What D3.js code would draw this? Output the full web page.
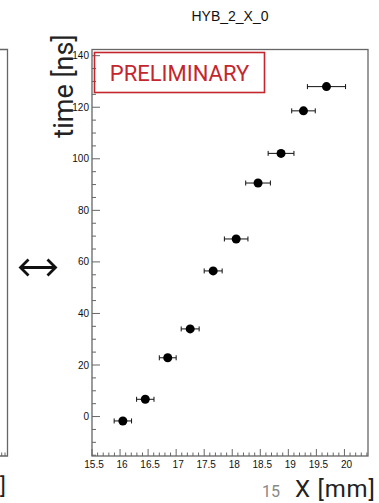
<!DOCTYPE html>
<html>
<head>
<meta charset="utf-8">
<script src="https://cdn.jsdelivr.net/npm/d3@7"></script>
<style>
  html, body { margin: 0; padding: 0; background: #fff; }
  svg { display: block; }
</style>
</head>
<body>
<svg id="chart" width="379" height="503"></svg>
<script>
// Strip position scan: mean time vs. strip X position
const title = "HYB_2_X_0";
const xPos = [16.05, 16.45, 16.85, 17.25, 17.66, 18.07, 18.46, 18.87, 19.27, 19.68];
const xErr = [0.155, 0.155, 0.15, 0.16, 0.16, 0.21, 0.22, 0.23, 0.21, 0.34];
const tMean = [-1.7, 6.7, 22.8, 34.0, 56.5, 68.9, 90.6, 102.1, 118.6, 128.0];
const xTickLabels = [15.5, 16, 16.5, 17, 17.5, 18, 18.5, 19, 19.5, 20];
const yTickLabels = [0, 20, 40, 60, 80, 100, 120, 140];
const xDomain = [15.5, 20.42];
const yDomain = [-15.3, 142.4];

const svg = d3.select("#chart");
const frame = { left: 92, right: 368, top: 49.5, bottom: 456 };

const x = d3.scaleLinear().domain(xDomain).range([frame.left, frame.right]);
const y = d3.scaleLinear().domain(yDomain).range([frame.bottom, frame.top]);

const axisColor = "#666";
const tickFont = "'Liberation Sans', Arial, sans-serif";
const labelFont = "Roboto, 'Noto Sans', sans-serif";

// neighbouring panel edge on the left
const left = svg.append("g");
left.append("path")
  .attr("d", `M0,${frame.top}H7.5V${frame.bottom}H0`)
  .attr("fill", "none").attr("stroke", axisColor).attr("stroke-width", 1.3);
[1.7, 5].forEach(px => left.append("line")
  .attr("x1", px).attr("x2", px)
  .attr("y1", frame.bottom).attr("y2", frame.bottom - 3.5)
  .attr("stroke", axisColor).attr("stroke-width", 1));
left.append("text")
  .attr("x", 0).attr("y", 494)
  .attr("font-family", labelFont).attr("font-size", 22)
  .attr("fill", "#222")
  .text("]");

// double-headed arrow between panels
svg.append("path")
  .attr("d", "M21,267.5H55 M28.5,259.5L20.5,267.5L28.5,275.5 M47.5,259.5L55.5,267.5L47.5,275.5")
  .attr("fill", "none").attr("stroke", "#111")
  .attr("stroke-width", 2.8).attr("stroke-linejoin", "miter");

// title
svg.append("text")
  .attr("x", 230).attr("y", 20.5)
  .attr("text-anchor", "middle")
  .attr("font-family", tickFont).attr("font-size", 14)
  .attr("fill", "#111")
  .text(title);

// frame
svg.append("rect")
  .attr("x", frame.left).attr("y", frame.top)
  .attr("width", frame.right - frame.left).attr("height", frame.bottom - frame.top)
  .attr("fill", "none").attr("stroke", axisColor).attr("stroke-width", 1.3);

// x axis ticks (inward) and labels
const xAxis = svg.append("g");
const xMinor = d3.range(155, 205).map(v => v / 10).filter(v => v <= xDomain[1]);
xAxis.selectAll("line.minor").data(xMinor).join("line")
  .attr("x1", d => x(d)).attr("x2", d => x(d))
  .attr("y1", frame.bottom)
  .attr("y2", d => frame.bottom - (Math.abs(d * 2 - Math.round(d * 2)) < 1e-6 ? 7 : 3.5))
  .attr("stroke", axisColor).attr("stroke-width", 1);
xAxis.selectAll("text").data(xTickLabels).join("text")
  .attr("x", d => x(d) + 2).attr("y", 468)
  .attr("text-anchor", "middle")
  .attr("font-family", tickFont).attr("font-size", 10)
  .attr("fill", "#111")
  .text(d => d);

// y axis ticks (inward) and labels
const yAxis = svg.append("g");
const yMinor = d3.range(-15, 145, 5).filter(v => v >= yDomain[0] && v <= yDomain[1]);
yAxis.selectAll("line").data(yMinor).join("line")
  .attr("x1", frame.left)
  .attr("x2", d => frame.left + (d % 20 === 0 ? 8 : 4))
  .attr("y1", d => y(d)).attr("y2", d => y(d))
  .attr("stroke", axisColor).attr("stroke-width", 1);
yAxis.selectAll("text").data(yTickLabels).join("text")
  .attr("x", 89).attr("y", d => y(d))
  .attr("dy", "0.35em")
  .attr("text-anchor", "end")
  .attr("font-family", tickFont).attr("font-size", 10)
  .attr("fill", "#111")
  .text(d => d);

// axis titles
svg.append("text")
  .attr("transform", `translate(73,86) rotate(-90)`)
  .attr("text-anchor", "middle")
  .attr("font-family", labelFont).attr("font-size", 27)
  .attr("fill", "#222")
  .text("time [ns]");
svg.append("text")
  .attr("x", 280).attr("y", 497)
  .attr("text-anchor", "end")
  .attr("font-family", labelFont).attr("font-size", 16)
  .attr("fill", "#888")
  .text("15");
svg.append("text")
  .attr("x", 295).attr("y", 497)
  .attr("font-family", labelFont).attr("font-size", 24)
  .attr("letter-spacing", 0.8)
  .attr("fill", "#222")
  .text("X [mm]");

// PRELIMINARY stamp
svg.append("rect")
  .attr("x", 94.5).attr("y", 52.5).attr("width", 170).attr("height", 40)
  .attr("fill", "none").attr("stroke", "#c4262e").attr("stroke-width", 1.6);
svg.append("text")
  .attr("x", 179.5).attr("y", 80.5)
  .attr("text-anchor", "middle")
  .attr("font-family", labelFont).attr("font-size", 22)
  .attr("fill", "#c4262e")
  .text("PRELIMINARY");

// data points with horizontal error bars
const pts = xPos.map((v, i) => ({ x: v, ex: xErr[i], t: tMean[i] }));
const g = svg.append("g");
g.selectAll("line.err").data(pts).join("line")
  .attr("x1", d => x(d.x - d.ex)).attr("x2", d => x(d.x + d.ex))
  .attr("y1", d => y(d.t)).attr("y2", d => y(d.t))
  .attr("stroke", "#111").attr("stroke-width", 1);
g.selectAll("path.cap").data(pts).join("path")
  .attr("d", d => `M${x(d.x - d.ex)},${y(d.t) - 2.5}V${y(d.t) + 2.5}M${x(d.x + d.ex)},${y(d.t) - 2.5}V${y(d.t) + 2.5}`)
  .attr("stroke", "#111").attr("stroke-width", 1).attr("fill", "none");
g.selectAll("circle").data(pts).join("circle")
  .attr("cx", d => x(d.x)).attr("cy", d => y(d.t))
  .attr("r", 4.5).attr("fill", "#000");
</script>
</body>
</html>
